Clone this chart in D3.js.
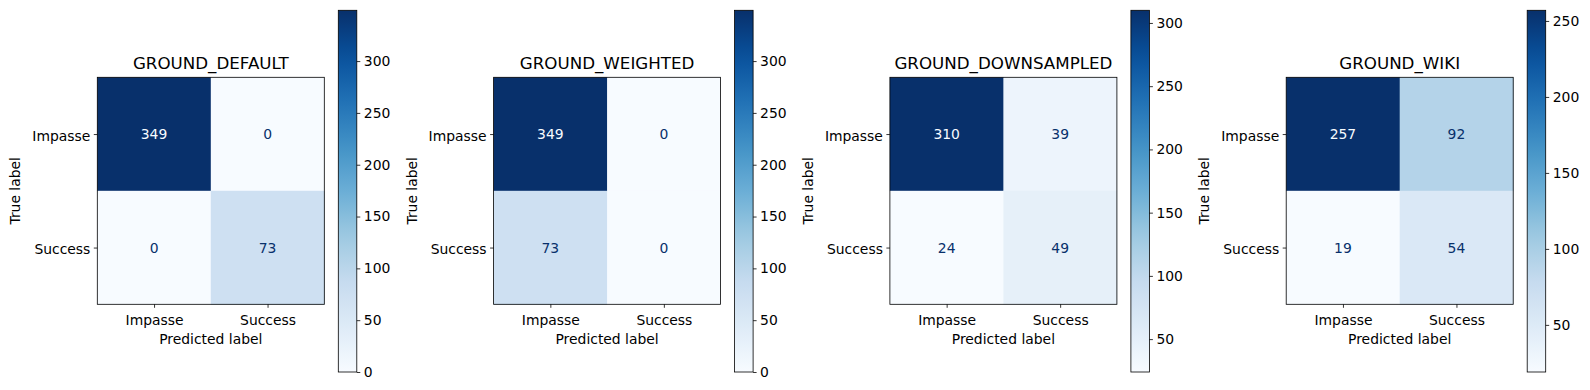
<!DOCTYPE html>
<html>
<head>
<meta charset="utf-8">
<script src="https://cdn.jsdelivr.net/npm/d3@7"></script>
<style>
  body { margin: 0; background: #fff; }
  text { font-family: "DejaVu Sans", sans-serif; fill: #000; }
</style>
</head>
<body>
<div id="chart"></div>
<script>
var titles = ["GROUND_DEFAULT", "GROUND_WEIGHTED", "GROUND_DOWNSAMPLED", "GROUND_WIKI"];
var classes = ["Impasse", "Success"];
// rows = true label, cols = predicted label
var matrices = [
  [[349, 0], [0, 73]],
  [[349, 0], [73, 0]],
  [[310, 39], [24, 49]],
  [[257, 92], [19, 54]]
];
var cbTicks = [
  [0, 50, 100, 150, 200, 250, 300],
  [0, 50, 100, 150, 200, 250, 300],
  [50, 100, 150, 200, 250, 300],
  [50, 100, 150, 200, 250]
];
var bluesStops = ["#f7fbff", "#deebf7", "#c6dbef", "#9ecae1", "#6baed6", "#4292c6", "#2171b5", "#08519c", "#08306b"];

var W = 1590, H = 390;
var svg = d3.select("#chart").append("svg")
  .attr("width", W)
  .attr("height", H);
svg.append("rect").attr("width", W).attr("height", H).attr("fill", "#fff");

var blues = d3.scaleLinear()
  .domain(d3.range(bluesStops.length).map(function(i) { return i / (bluesStops.length - 1); }))
  .range(bluesStops)
  .interpolate(d3.interpolateRgb);

var boxSize = 227, boxTop = 77.3;
var cbTop = 10.3, cbBottom = 372, cbW = 18.5;
var fs = 13.9;
var defs = svg.append("defs");

matrices.forEach(function(m, p) {
  var left = 97.3 + p * 396.3;
  var g = svg.append("g");
  var flat = [].concat.apply([], m);
  var vmin = d3.min(flat), vmax = d3.max(flat);
  var norm = d3.scaleLinear().domain([vmin, vmax]).range([0, 1]);
  var thresh = (vmin + vmax) / 2;

  var x = d3.scaleBand().domain(classes).range([left, left + boxSize]);
  var y = d3.scaleBand().domain(classes).range([boxTop, boxTop + boxSize]);

  var cells = [];
  m.forEach(function(row, i) {
    row.forEach(function(v, j) { cells.push({ t: classes[i], pr: classes[j], v: v }); });
  });

  g.selectAll("rect.cell").data(cells).enter().append("rect")
    .attr("class", "cell")
    .attr("x", function(d) { return x(d.pr); })
    .attr("y", function(d) { return y(d.t); })
    .attr("width", x.bandwidth() + 0.5)
    .attr("height", y.bandwidth() + 0.5)
    .attr("fill", function(d) { return blues(norm(d.v)); });

  g.selectAll("text.val").data(cells).enter().append("text")
    .attr("class", "val")
    .attr("x", function(d) { return x(d.pr) + x.bandwidth() / 2; })
    .attr("y", function(d) { return y(d.t) + y.bandwidth() / 2; })
    .attr("dy", "0.36em")
    .attr("text-anchor", "middle")
    .style("font-size", fs + "px")
    .style("fill", function(d) { return d.v < thresh ? blues(1) : blues(0); })
    .text(function(d) { return d.v; });

  g.append("rect")
    .attr("x", left).attr("y", boxTop)
    .attr("width", boxSize).attr("height", boxSize)
    .attr("fill", "none").attr("stroke", "#000").attr("stroke-width", 0.8);

  // axes
  var xAxis = d3.axisBottom(d3.scalePoint().domain(classes).range([x(classes[0]) + x.bandwidth() / 2, x(classes[1]) + x.bandwidth() / 2]))
    .tickSize(3.5).tickPadding(7.3);
  var yAxis = d3.axisLeft(d3.scalePoint().domain(classes).range([y(classes[0]) + y.bandwidth() / 2, y(classes[1]) + y.bandwidth() / 2]))
    .tickSize(3.5).tickPadding(3.5);

  var gx = g.append("g").attr("transform", "translate(0," + (boxTop + boxSize) + ")").call(xAxis);
  var gy = g.append("g").attr("transform", "translate(" + left + ",0)").call(yAxis);
  gy.selectAll("text").attr("dy", "0.43em");
  [gx, gy].forEach(function(a) {
    a.select(".domain").remove();
    a.selectAll("line").attr("stroke", "#000").attr("stroke-width", 0.8);
    a.selectAll("text").style("font-size", fs + "px").style("font-family", "DejaVu Sans");
  });

  g.append("text")
    .attr("x", left + boxSize / 2).attr("y", 69)
    .attr("text-anchor", "middle")
    .style("font-size", "16.7px")
    .text(titles[p]);

  g.append("text")
    .attr("x", left + boxSize / 2).attr("y", 344)
    .attr("text-anchor", "middle")
    .style("font-size", fs + "px")
    .text("Predicted label");

  g.append("text")
    .attr("transform", "translate(" + (left - 77) + "," + (boxTop + boxSize / 2) + ") rotate(-90)")
    .attr("text-anchor", "middle")
    .style("font-size", fs + "px")
    .text("True label");

  // colorbar
  var cbLeft = left + boxSize + 14;
  var gradId = "grad" + p;
  var grad = defs.append("linearGradient").attr("id", gradId)
    .attr("x1", 0).attr("y1", 1).attr("x2", 0).attr("y2", 0);
  grad.selectAll("stop").data(d3.range(0, 1.0001, 0.05)).enter().append("stop")
    .attr("offset", function(t) { return t; })
    .attr("stop-color", function(t) { return blues(t); });

  g.append("rect")
    .attr("x", cbLeft).attr("y", cbTop)
    .attr("width", cbW).attr("height", cbBottom - cbTop)
    .attr("fill", "url(#" + gradId + ")")
    .attr("stroke", "#000").attr("stroke-width", 0.8);

  var cy = d3.scaleLinear().domain([vmin, vmax]).range([cbBottom, cbTop]);
  var cAxis = d3.axisRight(cy).tickValues(cbTicks[p]).tickSize(3.5).tickPadding(3.5);
  var gc = g.append("g").attr("transform", "translate(" + (cbLeft + cbW) + ",0)").call(cAxis);
  gc.select(".domain").remove();
  gc.selectAll("line").attr("stroke", "#000").attr("stroke-width", 0.8);
  gc.selectAll("text").style("font-size", fs + "px").style("font-family", "DejaVu Sans");
});
</script>
</body>
</html>
